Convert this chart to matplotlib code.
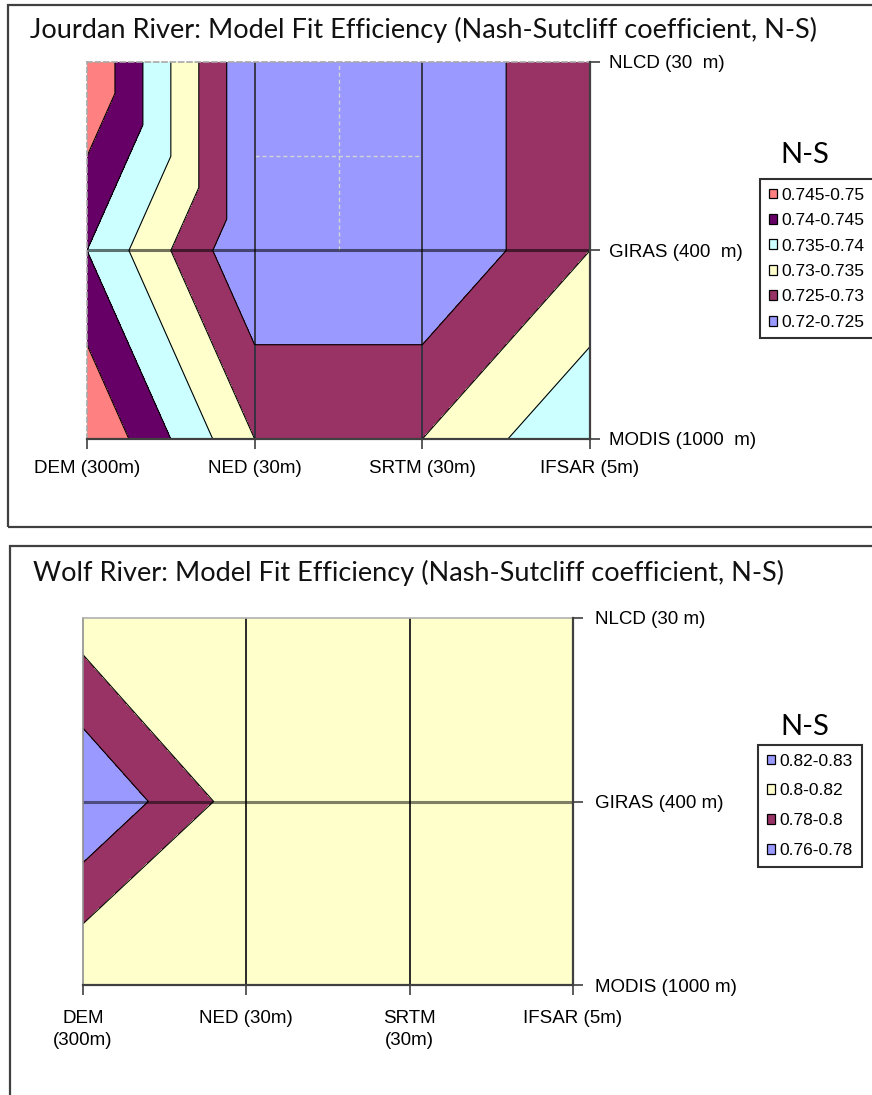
import numpy as np
import matplotlib
matplotlib.use("Agg")
import matplotlib.pyplot as plt
import matplotlib.tri as mtri
from matplotlib.patches import Patch, Rectangle
from matplotlib.font_manager import FontProperties

# ---------------- data ----------------
jourdan_x_labels = ["DEM (300m)", "NED (30m)", "SRTM (30m)", "IFSAR (5m)"]
wolf_x_labels = ["DEM\n(300m)", "NED (30m)", "SRTM\n(30m)", "IFSAR (5m)"]
jourdan_y_labels = ["MODIS (1000  m)", "GIRAS (400  m)", "NLCD (30  m)"]
wolf_y_labels = ["MODIS (1000 m)", "GIRAS (400 m)", "NLCD (30 m)"]

# N-S values, one list per land-use source (columns: DEM, NED, SRTM, IFSAR)
jourdan_modis = [0.750, 0.730, 0.730, 0.7398]
jourdan_giras = [0.740, 0.720, 0.720, 0.730]
jourdan_nlcd = [0.750, 0.720, 0.720, 0.730]

wolf_modis = [0.820, 0.810, 0.810, 0.810]
wolf_giras = [0.760, 0.810, 0.810, 0.810]
wolf_nlcd = [0.810, 0.810, 0.810, 0.810]

jourdan_levels = [0.72, 0.725, 0.73, 0.735, 0.74, 0.745, 0.75]
jourdan_colors = ["#9999FF", "#993366", "#FFFFCC", "#CCFFFF", "#660066", "#FF8080"]
jourdan_legend = ["0.745-0.75", "0.74-0.745", "0.735-0.74", "0.73-0.735", "0.725-0.73", "0.72-0.725"]

wolf_levels = [0.76, 0.78, 0.80, 0.82, 0.83]
wolf_colors = ["#9999FF", "#993366", "#FFFFCC", "#9999FF"]
wolf_legend = ["0.82-0.83", "0.8-0.82", "0.78-0.8", "0.76-0.78"]

jourdan_title = "Jourdan River: Model Fit Efficiency (Nash-Sutcliff coefficient, N-S)"
wolf_title = "Wolf River: Model Fit Efficiency (Nash-Sutcliff coefficient, N-S)"

# ---------------- helpers ----------------
W, H = 872, 1095
TITLE_FONT = ["Lato", "DejaVu Sans"]
TICK_FONT = FontProperties(family=["Liberation Sans", "DejaVu Sans"], size=13.5)
LEG_FONT = FontProperties(family=["Liberation Sans", "DejaVu Sans"], size=12.5)


def fx(px):
    return px / W


def fy(py):
    return 1 - py / H


def excel_triangulation(z):
    """Split each grid cell into two triangles along the diagonal whose
    corner values have the larger sum (mimics spreadsheet contour view)."""
    ny, nx = z.shape
    X, Y = np.meshgrid(np.arange(nx), np.arange(ny))
    idx = lambda i, j: j * nx + i
    tris = []
    for j in range(ny - 1):
        for i in range(nx - 1):
            bl, br, tl, tr = idx(i, j), idx(i + 1, j), idx(i, j + 1), idx(i + 1, j + 1)
            if z[j + 1, i] + z[j, i + 1] >= z[j, i] + z[j + 1, i + 1]:
                tris += [[tl, br, tr], [tl, bl, br]]
            else:
                tris += [[bl, tr, tl], [bl, br, tr]]
    return mtri.Triangulation(X.ravel().astype(float), Y.ravel().astype(float), np.array(tris))


def draw_panel(fig, rect, rows, levels, colors, xlabels, ylabels, legend_labels,
               leg_anchor, leg_spacing, title, title_xy, ns_xy, style):
    ax = fig.add_axes(rect)
    z = np.array(rows, dtype=float)
    tri = excel_triangulation(z)
    fill_levels = list(levels)
    fill_levels[0] -= 5e-4
    fill_levels[-1] += 5e-4
    ax.tricontourf(tri, z.ravel(), levels=fill_levels, colors=colors, zorder=1)
    ax.tricontour(tri, z.ravel(), levels=levels[1:-1], colors="black",
                  linewidths=0.8, zorder=2.2)

    ny, nx = z.shape
    for i in range(1, nx - 1):
        ax.axvline(i, color=style["vgrid"], lw=1.3, zorder=2.0)
    for j in range(1, ny - 1):
        ax.axhline(j, color="black", alpha=style["halpha"], lw=2.2, zorder=2.0)

    ax.set_xlim(0, nx - 1)
    ax.set_ylim(0, ny - 1)
    ax.set_xticks(range(nx))
    ax.set_xticklabels(xlabels, fontproperties=TICK_FONT)
    for lbl in ax.get_xticklabels():
        lbl.set_linespacing(1.35)
    ax.set_yticks(range(ny))
    ax.set_yticklabels(ylabels, fontproperties=TICK_FONT)
    ax.yaxis.tick_right()
    ax.tick_params(axis="both", direction="out", length=7, width=1.2, color="#404040")
    ax.tick_params(axis="x", pad=style["xpad"])
    ax.tick_params(axis="y", pad=style["ypad"])

    for s in ["right", "bottom"]:
        ax.spines[s].set_color("#404040")
        ax.spines[s].set_linewidth(1.6)
        ax.spines[s].set_zorder(3)
    ax.spines["left"].set_color(style["left"])
    ax.spines["top"].set_color(style["top"])
    ax.spines["left"].set_linestyle(style["ls"])
    ax.spines["top"].set_linestyle(style["ls"])
    ax.spines["left"].set_linewidth(1.2)
    ax.spines["top"].set_linewidth(1.2)

    fig.text(fx(title_xy[0]), fy(title_xy[1]), title, family=TITLE_FONT,
             fontsize=19.5, color="#111111", ha="left", va="center")
    fig.text(fx(ns_xy[0]), fy(ns_xy[1]), "N-S", family=TITLE_FONT,
             fontsize=21, color="black", ha="center", va="center")

    handles = [Patch(facecolor=c, edgecolor="black", linewidth=0.9) for c in reversed(colors)]
    leg = ax.legend(handles, legend_labels, loc="upper left",
                    bbox_to_anchor=(fx(leg_anchor[0]), fy(leg_anchor[1])),
                    bbox_transform=fig.transFigure, prop=LEG_FONT, frameon=True,
                    fancybox=False, edgecolor="#303030", framealpha=1,
                    borderpad=0.5, handlelength=0.5, handleheight=0.5,
                    handletextpad=0.25, labelspacing=leg_spacing, borderaxespad=0)
    leg.get_frame().set_linewidth(1.5)
    return ax


fig = plt.figure(figsize=(W / 100, H / 100), dpi=100)
fig.patch.set_facecolor("white")

# panel frames
fig.add_artist(Rectangle((fx(8), fy(527)), fx(880) - fx(8), fy(5) - fy(527),
                         transform=fig.transFigure, fill=False, ec="#404040", lw=1.6))
fig.add_artist(Rectangle((fx(10), fy(1110)), fx(880) - fx(10), fy(546) - fy(1110),
                         transform=fig.transFigure, fill=False, ec="#404040", lw=1.6))

jourdan_style = dict(vgrid="#303040", halpha=0.55, left="#a8a8a8", top="#a8a8a8",
                     ls=(0, (3, 2)), xpad=8, ypad=7)
wolf_style = dict(vgrid="#1a1a1a", halpha=0.5, left="#909090", top="#b0b0b0",
                  ls="-", xpad=11, ypad=9)

axj = draw_panel(fig, [fx(87), fy(439), fx(590) - fx(87), fy(62) - fy(439)],
                 [jourdan_modis, jourdan_giras, jourdan_nlcd], jourdan_levels,
                 jourdan_colors, jourdan_x_labels, jourdan_y_labels, jourdan_legend,
                 (760, 179), 0.6, jourdan_title, (30, 30), (805, 155), jourdan_style)

# faint dashed mesh lines visible in the flat top-middle cell of the Jourdan chart
axj.plot([1.5, 1.5], [1, 2], ls=(0, (3, 2)), color="#d4d4d4", lw=1.0, zorder=1.8)
axj.plot([1, 2], [1.5, 1.5], ls=(0, (3, 2)), color="#d4d4d4", lw=1.0, zorder=1.8)

draw_panel(fig, [fx(83), fy(985), fx(573) - fx(83), fy(618) - fy(985)],
           [wolf_modis, wolf_giras, wolf_nlcd], wolf_levels,
           wolf_colors, wolf_x_labels, wolf_y_labels, wolf_legend,
           (758, 745), 0.85, wolf_title, (33, 573), (805, 727), wolf_style)

fig.savefig("out.png", dpi=100, facecolor="white")
